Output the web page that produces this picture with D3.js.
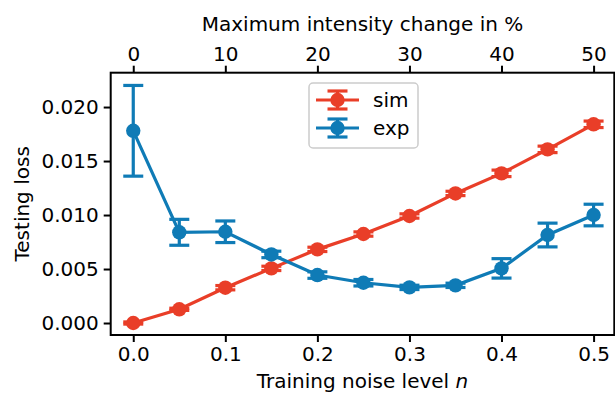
<!DOCTYPE html>
<html><head><meta charset="utf-8">
<script src="https://cdn.jsdelivr.net/npm/d3@7"></script>
<style>body{margin:0;background:#fff;}svg{display:block;}text{font-family:"DejaVu Sans",sans-serif;}</style>
</head><body>
<svg id="c" width="615" height="393"></svg>
<script>
const noise = [0, 0.05, 0.1, 0.15, 0.2, 0.25, 0.3, 0.35, 0.4, 0.45, 0.5];
const simLoss = [0.0000, 0.00127, 0.00327, 0.00506, 0.00682, 0.00824, 0.00991, 0.0120, 0.01386, 0.01608, 0.0184];
const simErr  = [0.0001, 0.0001, 0.0002, 0.0002, 0.0002, 0.0002, 0.0002, 0.0002, 0.0003, 0.0003, 0.0003];
const expLoss = [0.0178, 0.0084, 0.00845, 0.00635, 0.00444, 0.00373, 0.0033, 0.00349, 0.00506, 0.00815, 0.0100];
const expErr  = [0.0042, 0.0012, 0.0010, 0.0003, 0.0003, 0.0003, 0.0002, 0.0002, 0.0009, 0.0011, 0.0010];
const xTicks = [0, 0.1, 0.2, 0.3, 0.4, 0.5];
const yTicks = [0, 0.005, 0.010, 0.015, 0.020];
const topTicks = [0, 10, 20, 30, 40, 50];
const seriesNames = ["sim", "exp"];
const seriesColors = ["#e93e28", "#0f7bb6"];

const svg = d3.select("#c");
const L = 110.7, R = 614.3, T = 72.7, B = 335;
const x = d3.scaleLinear().domain([-0.0245, 0.5225]).range([L, R]);
const xTop = d3.scaleLinear().domain([-2.45, 52.25]).range([L, R]);
const y = d3.scaleLinear().domain([-0.00111, 0.02318]).range([B, T]);
const FS = "20px";
const LW = 3.2, MR = 7.2;

function styleAxis(g) {
  g.selectAll(".domain").remove();
  g.selectAll(".tick line").attr("stroke", "#000").attr("stroke-width", 2);
  g.selectAll(".tick text").attr("font-size", FS).attr("fill", "#000").attr("font-family", "DejaVu Sans");
}
svg.append("g").attr("transform", `translate(0,${B})`)
  .call(d3.axisBottom(x).tickValues(xTicks).tickFormat(d3.format(".1f")).tickSize(7).tickPadding(5))
  .call(styleAxis);
svg.append("g").attr("transform", `translate(0,${T})`)
  .call(d3.axisTop(xTop).tickValues(topTicks).tickFormat(d3.format("d")).tickSize(7).tickPadding(5))
  .call(styleAxis);
svg.append("g").attr("transform", `translate(${L},0)`)
  .call(d3.axisLeft(y).tickValues(yTicks).tickFormat(d3.format(".3f")).tickSize(7).tickPadding(5))
  .call(styleAxis);

// spines
svg.append("rect").attr("x", L).attr("y", T).attr("width", R - L).attr("height", B - T)
  .attr("fill", "none").attr("stroke", "#000").attr("stroke-width", 2);

// labels
svg.append("text").attr("x", (L + R) / 2).attr("y", 31).attr("text-anchor", "middle")
  .attr("font-size", FS).text("Maximum intensity change in %");
const xl = svg.append("text").attr("x", (L + R) / 2).attr("y", 387.5).attr("text-anchor", "middle")
  .attr("font-size", FS);
xl.append("tspan").text("Training noise level ");
xl.append("tspan").attr("font-style", "italic").text("n");
svg.append("text").attr("transform", `translate(29,${(T + B) / 2}) rotate(-90)`)
  .attr("text-anchor", "middle").attr("font-size", FS).text("Testing loss");

const plot = svg.append("g");
const data = [simLoss, expLoss];
const errs = [simErr, expErr];
const line = d3.line();
data.forEach((vals, si) => {
  const col = seriesColors[si];
  const g = plot.append("g");
  const pts = noise.map((n, i) => [x(n), y(vals[i])]);
  g.append("path").attr("d", line(pts)).attr("fill", "none").attr("stroke", col).attr("stroke-width", LW);
  noise.forEach((n, i) => {
    const cx = x(n), y1 = y(vals[i] + errs[si][i]), y2 = y(vals[i] - errs[si][i]);
    g.append("line").attr("x1", cx).attr("x2", cx).attr("y1", y1).attr("y2", y2).attr("stroke", col).attr("stroke-width", LW);
    [y1, y2].forEach(yy => g.append("line").attr("x1", cx - 10).attr("x2", cx + 10).attr("y1", yy).attr("y2", yy)
      .attr("stroke", col).attr("stroke-width", LW));
  });
  g.selectAll("circle").data(noise).join("circle")
    .attr("cx", d => x(d)).attr("cy", (d, i) => y(vals[i])).attr("r", MR).attr("fill", col);
});

// legend
const lg = svg.append("g");
lg.append("rect").attr("x", 309).attr("y", 83).attr("width", 109).attr("height", 65).attr("rx", 4)
  .attr("fill", "#fff").attr("fill-opacity", 0.85).attr("stroke", "#cccccc").attr("stroke-width", 1.5);
seriesNames.forEach((name, i) => {
  const cy = 100 + i * 28, col = seriesColors[i];
  lg.append("line").attr("x1", 316).attr("x2", 359).attr("y1", cy).attr("y2", cy).attr("stroke", col).attr("stroke-width", LW);
  lg.append("line").attr("x1", 337.5).attr("x2", 337.5).attr("y1", cy - 9).attr("y2", cy + 9).attr("stroke", col).attr("stroke-width", LW);
  [cy - 9, cy + 9].forEach(yy => lg.append("line").attr("x1", 327.5).attr("x2", 347.5).attr("y1", yy).attr("y2", yy).attr("stroke", col).attr("stroke-width", LW));
  lg.append("circle").attr("cx", 337.5).attr("cy", cy).attr("r", MR).attr("fill", col);
  lg.append("text").attr("x", 373).attr("y", cy + 7).attr("font-size", FS).text(name);
});
</script>
</body></html>
